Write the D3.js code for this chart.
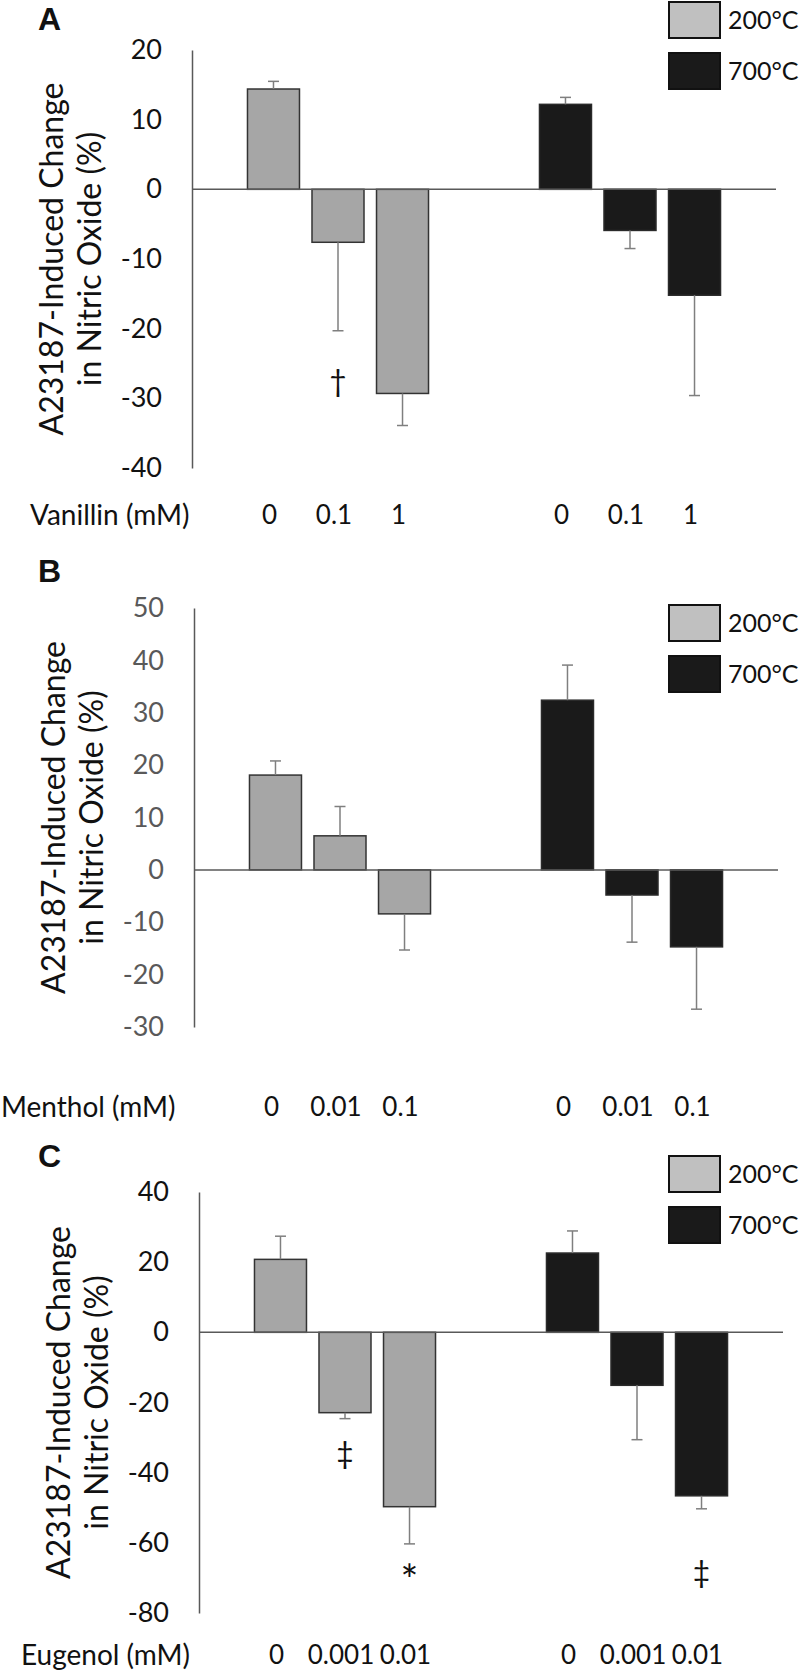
<!DOCTYPE html>
<html><head><meta charset="utf-8">
<script src="https://cdn.jsdelivr.net/npm/d3@7"></script>
<style>
body{margin:0;background:#fff}
svg{display:block}
text{font-family:Lato,"Open Sans",sans-serif}
</style>
</head><body>
<svg id="chart" width="800" height="1677"></svg>
<script>
// ---------- data ----------
const temps = ["200°C", "700°C"];

const vanillinDoses = ["0", "0.1", "1"];
const vanillin200 = [14.4, -7.6, -29.3];
const vanillin200Err = [1.1, 12.7, 4.6];
const vanillin700 = [12.2, -5.9, -15.2];
const vanillin700Err = [1.0, 2.6, 14.4];
const vanillinTicks = [20, 10, 0, -10, -20, -30, -40];
const vanillinMarks = [{temp: "200°C", dose: "0.1", sym: "†", at: -27.8}];

const mentholDoses = ["0", "0.01", "0.1"];
const menthol200 = [18.1, 6.5, -8.4];
const menthol200Err = [2.7, 5.6, 6.9];
const menthol700 = [32.4, -4.8, -14.7];
const menthol700Err = [6.7, 9.0, 11.9];
const mentholTicks = [50, 40, 30, 20, 10, 0, -10, -20, -30];
const mentholMarks = [];

const eugenolDoses = ["0", "0.001", "0.01"];
const eugenol200 = [20.8, -22.9, -49.7];
const eugenol200Err = [6.6, 1.7, 10.6];
const eugenol700 = [22.6, -15.1, -46.6];
const eugenol700Err = [6.3, 15.5, 3.7];
const eugenolTicks = [40, 20, 0, -20, -40, -60, -80];
const eugenolMarks = [
  {temp: "200°C", dose: "0.001", sym: "‡", at: -35.1},
  {temp: "200°C", dose: "0.01", sym: "*", at: -67.4},
  {temp: "700°C", dose: "0.01", sym: "‡", at: -68.9}
];

const yTitle = ["A23187-Induced Change", "in Nitric Oxide (%)"];

// ---------- panels ----------
const panels = [
  {letter: "A", letterY: 30, axisX: 192, top: 50, bottom: 468, domain: [-40, 20], ticks: vanillinTicks,
   labelY: 515, xTitle: "Vanillin (mM)", xTitleX: 30, legendY: 2, tickColor: "#111",
   doses: vanillinDoses, v200: vanillin200, e200: vanillin200Err, v700: vanillin700, e700: vanillin700Err, marks: vanillinMarks},
  {letter: "B", letterY: 582, axisX: 194, top: 608, bottom: 1027, domain: [-30, 50], ticks: mentholTicks,
   labelY: 1107, xTitle: "Menthol (mM)", xTitleX: 1, legendY: 605, tickColor: "#595959",
   doses: mentholDoses, v200: menthol200, e200: menthol200Err, v700: menthol700, e700: menthol700Err, marks: mentholMarks},
  {letter: "C", letterY: 1167, axisX: 199, top: 1192, bottom: 1613, domain: [-80, 40], ticks: eugenolTicks,
   labelY: 1655, xTitle: "Eugenol (mM)", xTitleX: 21, legendY: 1156, tickColor: "#111",
   doses: eugenolDoses, v200: eugenol200, e200: eugenol200Err, v700: eugenol700, e700: eugenol700Err, marks: eugenolMarks}
];

const fills = {"200°C": "#a6a6a6", "700°C": "#1a1a1a"};
const strokes = {"200°C": "#333333", "700°C": "#2a2a2a"};
const legendFills = {"200°C": "#c0c0c0", "700°C": "#1a1a1a"};

const svg = d3.select("#chart");
const plotW = 584;

panels.forEach(p => {
  const g = svg.append("g");
  const y = d3.scaleLinear().domain(p.domain).range([p.bottom, p.top]);
  const x0 = d3.scaleBand().domain(temps).range([p.axisX, p.axisX + plotW]).paddingInner(0.38).paddingOuter(0.19);
  const x1 = d3.scaleBand().domain(p.doses).range([0, x0.bandwidth()]).paddingInner(0.194).paddingOuter(0);
  const cx = (t, d) => x0(t) + x1(d) + x1.bandwidth() / 2;

  const rows = [];
  p.doses.forEach((d, i) => {
    rows.push({temp: "200°C", dose: d, v: p.v200[i], e: p.e200[i]});
    rows.push({temp: "700°C", dose: d, v: p.v700[i], e: p.e700[i]});
  });

  // panel letter
  g.append("text").attr("x", 38).attr("y", p.letterY)
    .style("font-family", "'Liberation Sans', Arial, sans-serif")
    .attr("font-weight", "bold").attr("font-size", 32).attr("fill", "#111").text(p.letter);

  // y axis
  const ax = g.append("g").attr("transform", `translate(${p.axisX},0)`)
    .call(d3.axisLeft(y).tickValues(p.ticks).tickSize(0).tickPadding(30).tickFormat(d => String(d)));
  ax.select(".domain").attr("stroke", "#595959").attr("stroke-width", 1.5);
  ax.selectAll("text").attr("font-size", 27).attr("fill", p.tickColor)
    .style("font-family", "Lato, sans-serif");

  // y title
  const yc = (p.top + p.bottom) / 2;
  yTitle.forEach((line, i) => {
    g.append("text")
      .attr("transform", `translate(${p.axisX - 129 + i * 38},${yc}) rotate(-90)`)
      .attr("text-anchor", "middle").attr("font-size", 32).attr("fill", "#111").text(line);
  });

  // bars
  g.selectAll("rect.bar").data(rows).join("rect").attr("class", "bar")
    .attr("x", d => x0(d.temp) + x1(d.dose))
    .attr("width", x1.bandwidth())
    .attr("y", d => Math.min(y(d.v), y(0)))
    .attr("height", d => Math.abs(y(d.v) - y(0)))
    .attr("fill", d => fills[d.temp])
    .attr("stroke", d => strokes[d.temp]).attr("stroke-width", 1.5);

  // error bars
  const eb = g.selectAll("g.err").data(rows).join("g").attr("class", "err")
    .attr("stroke", "#7f7f7f").attr("stroke-width", 1.5);
  eb.append("line")
    .attr("x1", d => cx(d.temp, d.dose)).attr("x2", d => cx(d.temp, d.dose))
    .attr("y1", d => y(d.v))
    .attr("y2", d => y(d.v >= 0 ? d.v + d.e : d.v - d.e));
  eb.append("line")
    .attr("x1", d => cx(d.temp, d.dose) - 5.5).attr("x2", d => cx(d.temp, d.dose) + 5.5)
    .attr("y1", d => y(d.v >= 0 ? d.v + d.e : d.v - d.e))
    .attr("y2", d => y(d.v >= 0 ? d.v + d.e : d.v - d.e));

  // zero line
  g.append("line").attr("x1", p.axisX).attr("x2", p.axisX + plotW)
    .attr("y1", y(0)).attr("y2", y(0)).attr("stroke", "#595959").attr("stroke-width", 1.5);

  // significance marks
  g.selectAll("text.mark").data(p.marks).join("text").attr("class", "mark")
    .attr("x", d => cx(d.temp, d.dose)).attr("y", d => y(d.at))
    .attr("dy", d => d.sym === "*" ? "0.62em" : "0.3em")
    .attr("text-anchor", "middle")
    .attr("font-size", d => d.sym === "*" ? 42 : 30)
    .attr("fill", "#111").text(d => d.sym);

  // x labels
  g.selectAll("text.xl").data(rows).join("text").attr("class", "xl")
    .attr("x", d => cx(d.temp, d.dose) - 4).attr("y", p.labelY).attr("dy", "0.35em")
    .attr("text-anchor", "middle").attr("font-size", 26).attr("fill", "#111").text(d => d.dose);
  g.append("text").attr("x", p.xTitleX).attr("y", p.labelY).attr("dy", "0.35em")
    .attr("font-size", 28).attr("fill", "#111").text(p.xTitle);

  // legend
  temps.forEach((t, i) => {
    const ly = p.legendY + i * 51;
    g.append("rect").attr("x", 669).attr("y", ly).attr("width", 51).attr("height", 36)
      .attr("fill", legendFills[t]).attr("stroke", "#111").attr("stroke-width", 2);
    g.append("text").attr("x", 728).attr("y", ly + 18).attr("dy", "0.35em")
      .attr("font-size", 25).attr("fill", "#111").text(t);
  });
});
</script>
</body></html>
